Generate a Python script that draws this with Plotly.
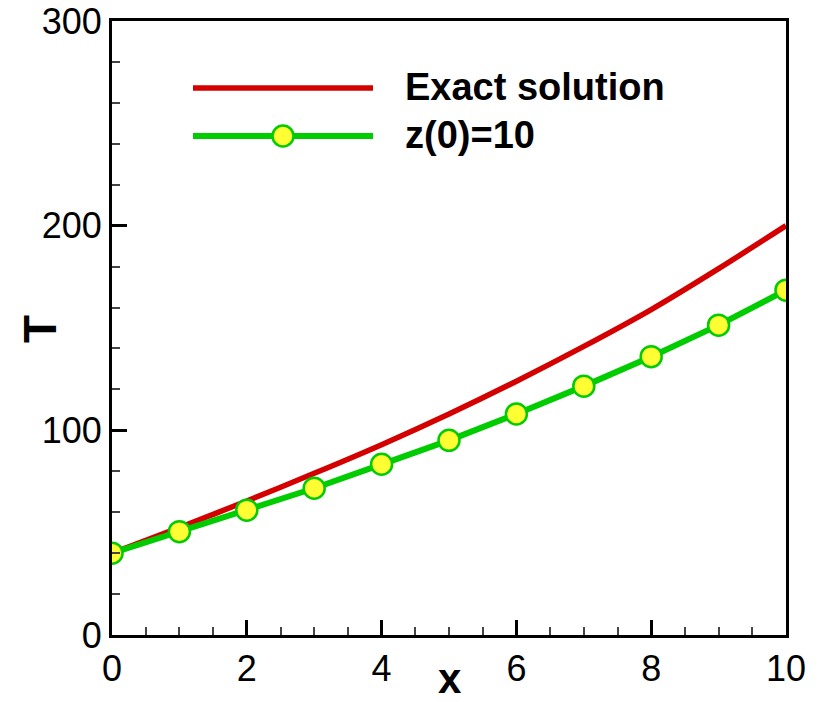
import plotly.graph_objects as go

# Data
x_exact = [0, 1, 2, 3, 4, 5, 6, 7, 8, 9, 10]
t_exact = [40, 52.5, 65.5, 79, 93, 108, 124, 141, 159, 179, 200]

x_num = [0, 1, 2, 3, 4, 5, 6, 7, 8, 9, 10]
t_num = [40, 50.5, 61, 71.7, 83.4, 95.1, 108, 121.6, 136, 151.4, 168.5]

x_ticks = [0, 2, 4, 6, 8, 10]
y_ticks = [0, 100, 200, 300]

series_names = ["Exact solution", "z(0)=10"]

RED = "#d40000"
GREEN = "#00cc00"
YELLOW = "#ffff33"
FONT = "Liberation Sans, Arial, sans-serif"

# page has an 8px body margin; size the figure to fit the 825x702 window
OFF = 8
W, H = 825 - OFF, 702 - OFF
L, T = 112 - OFF, 21 - OFF
PW, PH = 674, 614
R, B = W - L - PW, H - T - PH


def px(xp):
    """screen pixel x -> paper coordinate"""
    return (xp - OFF - L) / PW


def py(yp):
    """screen pixel y -> paper coordinate"""
    return (T + PH - (yp - OFF)) / PH


fig = go.Figure()
fig.add_trace(go.Scatter(
    x=x_exact, y=t_exact, mode="lines", name=series_names[0],
    line=dict(color=RED, width=5.5, shape="spline", smoothing=0.8),
))
fig.add_trace(go.Scatter(
    x=x_num, y=t_num, mode="lines+markers", name=series_names[1],
    line=dict(color=GREEN, width=6),
    marker=dict(size=21, color=YELLOW, line=dict(color=GREEN, width=2.5)),
))

axis_common = dict(
    showgrid=False, zeroline=False, showline=True, linecolor="black",
    linewidth=3, mirror=True, ticks="inside", ticklen=15, tickwidth=3,
    tickcolor="black", automargin=False, ticklabeloverflow="allow",
    tickfont=dict(family=FONT, size=36, color="black"),
)

fig.update_xaxes(
    range=[0, 10], tickmode="array", tickvals=x_ticks,
    ticktext=[str(v) for v in x_ticks],
    minor=dict(ticks="inside", dtick=0.5, ticklen=8, tickwidth=1.5,
               tickcolor="#444444"),
    **axis_common,
)
fig.update_yaxes(
    range=[0, 300], tickmode="array", tickvals=y_ticks,
    ticktext=[str(v) for v in y_ticks],
    minor=dict(ticks="inside", dtick=20, ticklen=8, tickwidth=1.5,
               tickcolor="#444444"),
    **axis_common,
)

# Legend drawn in paper coordinates (long sample lines like the reference)
leg_x0, leg_x1, leg_xm, leg_text = 193, 373, 283, 403
leg_rows = [88, 136]
r = 11.5
shapes = [
    dict(type="line", xref="paper", yref="paper",
         x0=px(leg_x0), x1=px(leg_x1), y0=py(leg_rows[0]), y1=py(leg_rows[0]),
         line=dict(color=RED, width=5.5)),
    dict(type="line", xref="paper", yref="paper",
         x0=px(leg_x0), x1=px(leg_x1), y0=py(leg_rows[1]), y1=py(leg_rows[1]),
         line=dict(color=GREEN, width=6)),
    dict(type="circle", xref="paper", yref="paper",
         x0=px(leg_xm - r + 1), x1=px(leg_xm + r - 1),
         y0=py(leg_rows[1] + r - 1), y1=py(leg_rows[1] - r + 1),
         fillcolor=YELLOW, line=dict(color=GREEN, width=2.5)),
]

annotations = [
    dict(text="<b>%s</b>" % series_names[0], xref="paper", yref="paper",
         x=px(leg_text), y=py(leg_rows[0] - 1), xanchor="left", yanchor="middle",
         showarrow=False, font=dict(family=FONT, size=38, color="black")),
    dict(text="<b>%s</b>" % series_names[1], xref="paper", yref="paper",
         x=px(leg_text), y=py(leg_rows[1] - 1), xanchor="left", yanchor="middle",
         showarrow=False, font=dict(family=FONT, size=38, color="black")),
    dict(text="<b>T</b>", xref="paper", yref="paper",
         x=px(40), y=py(329), showarrow=False, textangle=-90,
         xanchor="center", yanchor="middle",
         font=dict(family=FONT, size=46, color="black")),
    dict(text="<b>x</b>", xref="paper", yref="paper",
         x=px(450), y=py(678), showarrow=False, xanchor="center",
         yanchor="middle",
         font=dict(family=FONT, size=42, color="black")),
]

fig.update_layout(
    width=W, height=H,
    margin=dict(l=L, r=R, t=T, b=B),
    plot_bgcolor="white", paper_bgcolor="white",
    showlegend=False,
    shapes=shapes,
    annotations=annotations,
)

fig.write_html("out.html")
